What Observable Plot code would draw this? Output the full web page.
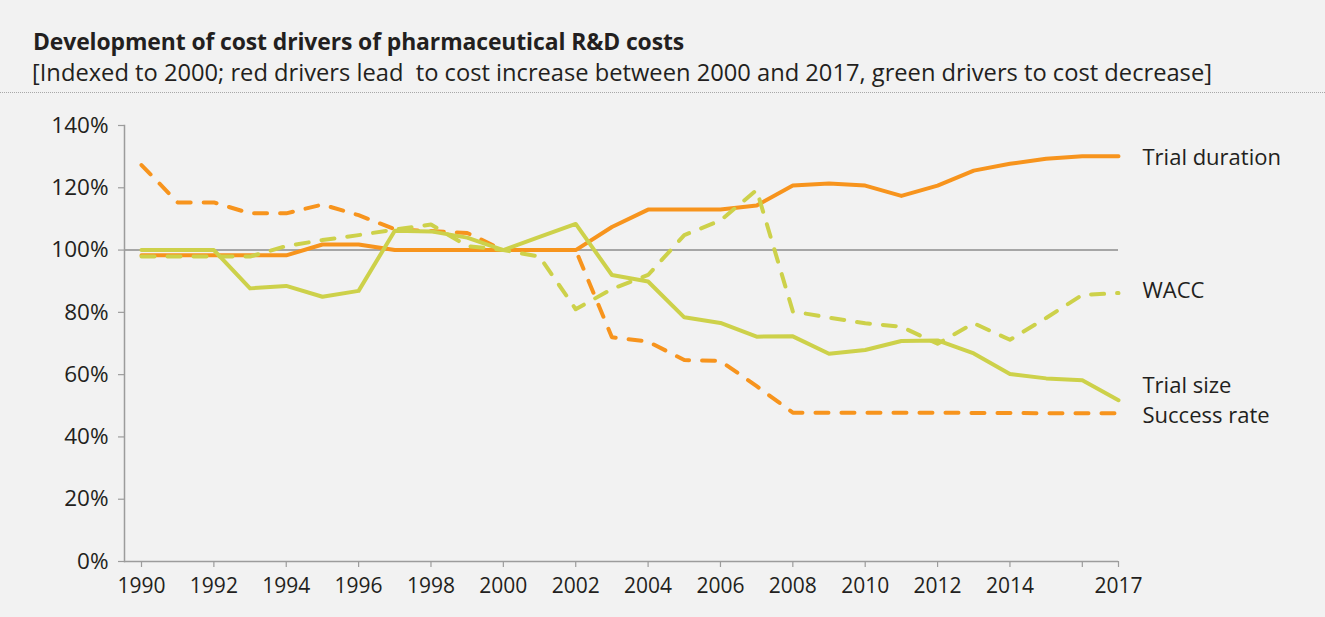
<!DOCTYPE html>
<html>
<head>
<meta charset="utf-8">
<script src="https://cdn.jsdelivr.net/npm/d3@7"></script>
<script src="https://cdn.jsdelivr.net/npm/@observablehq/plot@0.6"></script>
<style>
  html, body { margin: 0; padding: 0; background: #f2f2f2; }
  body { width: 1325px; height: 617px; overflow: hidden; font-family: "Open Sans", sans-serif; color: #231f20; }
  #header { position: relative; height: 95px; }
  #title { position: absolute; left: 33px; top: 30px; font-weight: 700; font-size: 22.9px; line-height: 23px; white-space: pre; letter-spacing: -0.1px; }
  #subtitle { position: absolute; left: 32px; top: 60px; font-size: 23.7px; line-height: 24px; white-space: pre; }
  #rule { position: absolute; left: 0; right: 0; top: 92px; border-top: 1px dotted #a8a8a8; }
  #chart svg { display: block; }
</style>
</head>
<body>
<div id="header">
  <div id="title">Development of cost drivers of pharmaceutical R&amp;D costs</div>
  <div id="subtitle">[Indexed to 2000; red drivers lead  to cost increase between 2000 and 2017, green drivers to cost decrease]</div>
  <div id="rule"></div>
</div>
<div id="chart"></div>
<script>
// ---- Data ----
const years = [1990,1991,1992,1993,1994,1995,1996,1997,1998,1999,2000,2001,2002,2003,2004,2005,2006,2007,2008,2009,2010,2011,2012,2013,2014,2015,2016,2017];
const trialDuration = [98.3,98.3,98.3,98.3,98.3,101.8,101.8,100,100,100,100,100,100,107.4,113,113,113,114.3,120.7,121.4,120.7,117.4,120.7,125.5,127.7,129.3,130.1,130.1];
const successRate   = [127.3,115.3,115.3,111.8,111.8,114.6,111.2,106.7,106.1,105.5,100,100,100,72,70.6,64.7,64.4,56.3,47.8,47.8,47.8,47.8,47.8,47.7,47.7,47.6,47.6,47.6];
const trialSize     = [100,100,100,87.7,88.5,85.0,86.9,106.2,106,104,100,104.2,108.4,92,89.9,78.4,76.6,72.2,72.3,66.7,67.9,70.8,71,66.8,60.2,58.8,58.2,51.8];
const wacc          = [97.9,97.9,97.9,97.9,101.3,103.2,104.8,106.6,108.2,101.3,100,97.9,81,87.5,92,104.8,109.5,119.3,80.3,78.3,76.5,75.4,69.9,76.5,71.2,78.2,85.6,86.2];

const seriesNames  = ["Success rate", "Trial duration", "Trial size", "WACC"];
const seriesValues = [successRate, trialDuration, trialSize, wacc];
const seriesColors = ["#f7941d", "#f7941d", "#cdd14a", "#cdd14a"];
const seriesDashed = [true, false, false, true];

const yTicks = [0, 20, 40, 60, 80, 100, 120, 140];
const xTicks = [1990,1992,1994,1996,1998,2000,2002,2004,2006,2008,2010,2012,2014,2016,2017];
const xTickLabels = ["1990","1992","1994","1996","1998","2000","2002","2004","2006","2008","2010","2012","2014","","2017"];

// ---- Build table ----
const rows = seriesNames.flatMap((name, i) =>
  years.map((year, j) => ({series: name, year, value: seriesValues[i][j]})));
const ends = seriesNames.map((name, i) => ({series: name, year: years[years.length - 1], value: seriesValues[i][years.length - 1]}));

// label vertical nudges (px), styling only
const labelDy = {"Trial duration": 2, "WACC": -2, "Trial size": -14, "Success rate": 3};

const lineMarks = seriesNames.map((name, i) =>
  Plot.line(rows.filter(d => d.series === name), {
    x: "year", y: "value",
    stroke: seriesColors[i], strokeWidth: 4,
    strokeDasharray: seriesDashed[i] ? "13,13" : null,
    strokeLinecap: "round", strokeLinejoin: "round"
  }));

const textMarks = seriesNames.map(name =>
  Plot.text(ends.filter(d => d.series === name), {
    x: "year", y: "value", text: "series",
    textAnchor: "start", dx: 24, dy: labelDy[name],
    fontSize: 22, fill: "#231f20"
  }));

const chart = Plot.plot({
  width: 1325, height: 522,
  marginTop: 30, marginBottom: 56, marginLeft: 124, marginRight: 207,
  style: {background: "transparent", fontFamily: "'Open Sans', sans-serif", color: "#231f20", overflow: "visible"},
  x: {domain: [1990, 2017], insetLeft: 17},
  y: {domain: [0, 140]},
  marks: [
    Plot.ruleY([100], {stroke: "#8c8c8c", strokeWidth: 1.5}),
    Plot.frame({anchor: "left", stroke: "#9c9c9c", strokeWidth: 1.5}),
    Plot.ruleY([0], {stroke: "#9c9c9c", strokeWidth: 1.5}),
    Plot.axisY({ticks: yTicks, tickFormat: d => d + "%", tickSize: 6, tickPadding: 10, fontSize: 22.5, stroke: "#9c9c9c", strokeWidth: 1.2, label: null}),
    Plot.axisX({ticks: xTicks, tickFormat: d => xTickLabels[xTicks.indexOf(d)], tickSize: 6, tickPadding: 11, fontSize: 21, stroke: "#9c9c9c", strokeWidth: 1.2, label: null}),
    ...lineMarks,
    ...textMarks
  ]
});
document.getElementById("chart").appendChild(chart);
</script>
</body>
</html>
